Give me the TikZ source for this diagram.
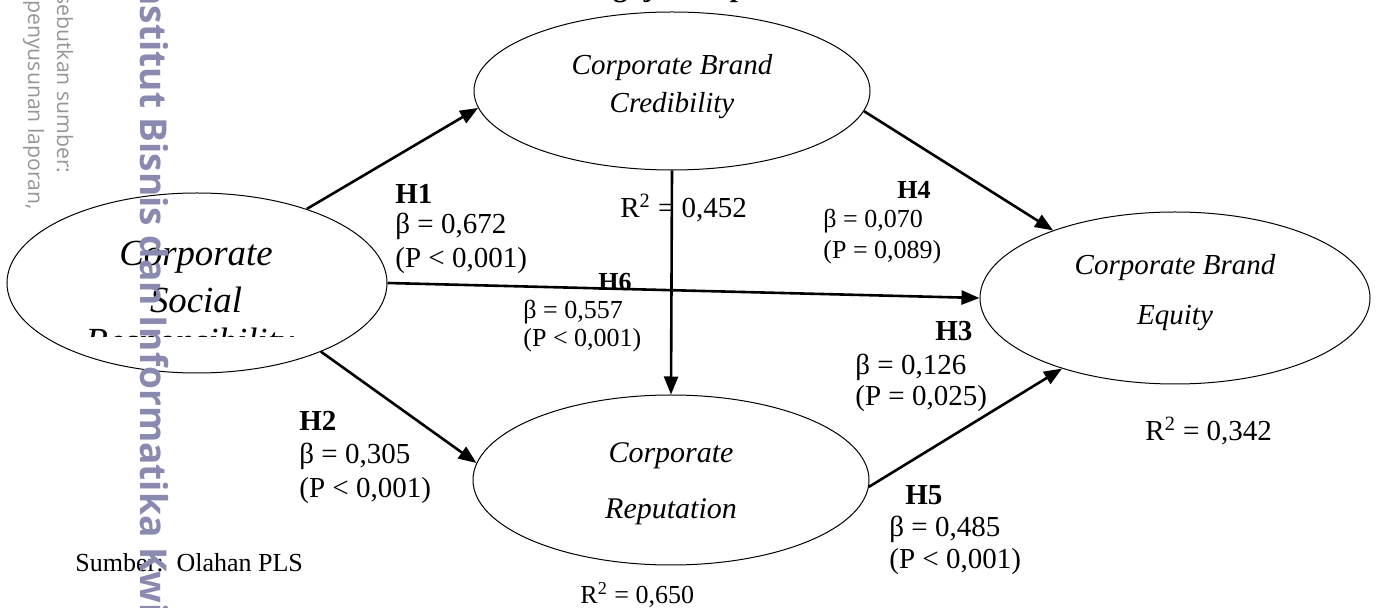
\documentclass[tikz,border=0pt]{standalone}
\usepackage{fontspec}
\setmainfont{Liberation Serif}
\newfontfamily\wmfont{Open Sans}
\usetikzlibrary{arrows.meta,shapes.geometric}
\definecolor{wmblue}{RGB}{138,138,176}
\definecolor{wmgray}{RGB}{150,150,150}
\begin{document}
\begin{tikzpicture}[x=0.5pt,y=-0.5pt,
  lv/.style={draw, ellipse, line width=0.5pt, inner sep=0pt},
  arr/.style={line width=1.3pt, -{Triangle[length=9pt,width=7pt]}},
  lbl/.style={anchor=west, inner sep=0pt, font=\fontsize{14.5}{17}\selectfont},
  lbls/.style={anchor=west, inner sep=0pt, font=\fontsize{13}{15}\selectfont},
  lvtext/.style={inner sep=0pt, font=\fontsize{14.5}{17}\selectfont\itshape},
  wm/.style={rotate=-90, anchor=base west, inner sep=0pt, text=wmblue, font=\wmfont\bfseries\fontsize{18.5}{20}\selectfont},
  wmg/.style={rotate=-90, anchor=base west, inner sep=0pt, text=wmgray, font=\wmfont\fontsize{10.6}{12}\selectfont}]
\useasboundingbox (0,0) rectangle (1376,608);
\clip (0,0) rectangle (1376,608);
\fill[white] (0,0) rectangle (1376,608);

% caption remnant
\node[anchor=base west, inner sep=0pt, font=\bfseries\fontsize{14.5}{17}\selectfont] (cap) at (566,-3) {Pengujian Hipotesis};

% latent variables
\node[lv, minimum width=190pt, minimum height=90pt] (csr) at (197,283) {};
\node[lv, minimum width=198pt, minimum height=79pt] (cbc) at (672,91) {};
\node[lv, minimum width=198pt, minimum height=85pt] (cr) at (671,480) {};
\node[lv, minimum width=195pt, minimum height=86pt] (cbe) at (1175,298) {};

% texts in ellipses
\node[inner sep=0pt, font=\fontsize{18.4}{21}\selectfont\itshape] (csr1) at (196,257) {Corporate};
\node[inner sep=0pt, font=\fontsize{18.4}{21}\selectfont\itshape] (csr2) at (196,300) {Social};
\begin{scope}
\clip (0,0) rectangle (400,337);
\node[inner sep=0pt, font=\fontsize{18.4}{21}\selectfont\itshape] (csr3) at (190,345) {Responsibility};
\end{scope}
\node[lvtext] (cbc1) at (672,68) {Corporate Brand};
\node[lvtext] (cbc2) at (672,106) {Credibility};
\node[lvtext, font=\fontsize{15}{17}\selectfont\itshape] (cr1) at (671,456) {Corporate};
\node[lvtext, font=\fontsize{15}{17}\selectfont\itshape] (cr2) at (671,512) {Reputation};
\node[lvtext] (cbe1) at (1175,268) {Corporate Brand};
\node[lvtext] (cbe2) at (1175,318) {Equity};

% connectors
\draw[arr] (csr.34) -- (cbc.185);
\draw[arr] (csr.-29) -- (cr.175);
\draw[arr] (csr.east) -- (cbe.west);
\draw[arr] (cbc.south) -- (cr.north);
\draw[arr] (cbc.-6) -- (cbe.151);
\draw[arr] (cr.-2) -- (cbe.212);

% labels
\node[lbl, font=\bfseries\fontsize{14.5}{17}\selectfont] (h1) at (395,194) {H1};
\node[lbl] (h1b) at (395,226) {β = 0,672};
\node[lbl] (h1p) at (395,261) {(P < 0,001)};

\node[lbl] (r1) at (620,208) {R\textsuperscript{2} = 0,452};

\node[lbls, font=\bfseries\fontsize{13}{15}\selectfont] (h6) at (598,282) {H6};
\node[lbls] (h6b) at (523,312) {β = 0,557};
\node[lbls] (h6p) at (523,340) {(P < 0,001)};

\node[lbls, font=\bfseries\fontsize{13}{15}\selectfont] (h4) at (897,190) {H4};
\node[lbls] (h4b) at (823,221) {β = 0,070};
\node[lbls] (h4p) at (823,252) {(P = 0,089)};

\node[lbl, font=\bfseries\fontsize{14.5}{17}\selectfont] (h3) at (935,331) {H3};
\node[lbl] (h3b) at (855,367) {β = 0,126};
\node[lbl] (h3p) at (855,399) {(P = 0,025)};

\node[lbl, font=\bfseries\fontsize{14.5}{17}\selectfont] (h5) at (905,495) {H5};
\node[lbl] (h5b) at (889,529) {β = 0,485};
\node[lbl] (h5p) at (889,562) {(P < 0,001)};

\node[lbl, font=\bfseries\fontsize{14.5}{17}\selectfont] (h2) at (299,421) {H2};
\node[lbl] (h2b) at (299,456) {β = 0,305};
\node[lbl] (h2p) at (299,491) {(P < 0,001)};

\node[lbls] (r2) at (580,595) {R\textsuperscript{2} = 0,650};
\node[lbl] (r3) at (1145,431) {R\textsuperscript{2} = 0,342};

\node[lbls] (src) at (75,563) {Sumber:\ \ Olahan PLS};

% watermark
\node[wmg] (wg1) at (57,-6) {sebutkan sumber:};
\node[wmg] (wg2) at (28,0) {penyusunan laporan,};
\node[wm] (wmk) at (140,-31) {Institut Bisnis dan Informatika Kwik Kian Gie};
\end{tikzpicture}
\end{document}
